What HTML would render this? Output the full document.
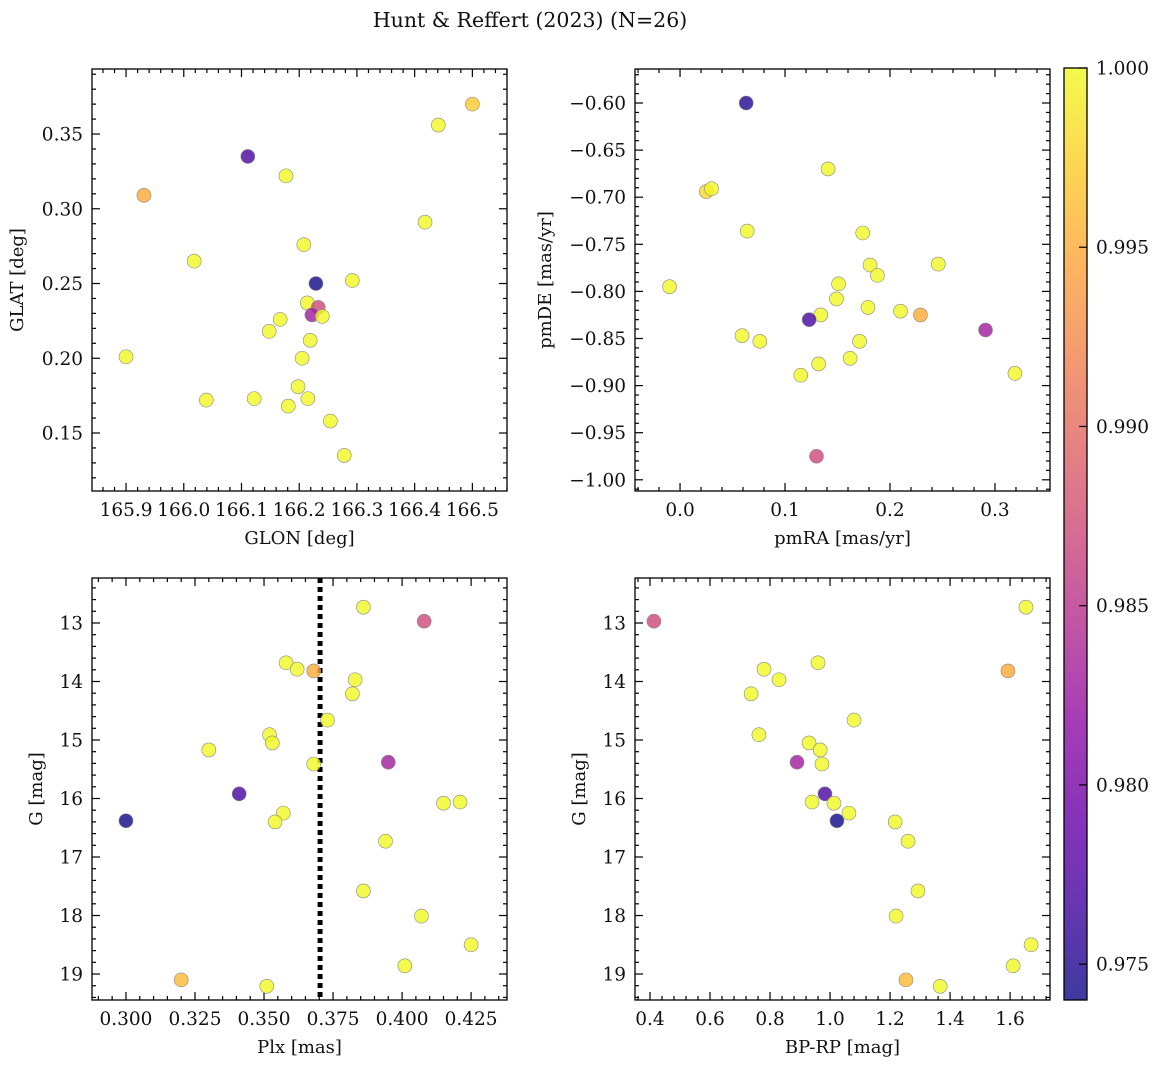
<!DOCTYPE html>
<html><head><meta charset="utf-8"><style>
body{margin:0;background:#fff}
svg text{font-family:"DejaVu Serif","Liberation Serif",serif;fill:#111}
</style></head><body>
<svg id="fig" width="1161" height="1068" viewBox="0 0 1161 1068" xmlns="http://www.w3.org/2000/svg">
<defs><linearGradient id="cbg" x1="0" y1="1" x2="0" y2="0"></linearGradient></defs>
<text x="530" y="27" font-size="20.5" text-anchor="middle">Hunt &amp; Reffert (2023) (N=26)</text>
</svg>
<script>
// ---- data ----
const glon=[166.5,166.441,166.111,166.177,165.931,166.418,166.208,166.018,166.229,166.292,166.214,166.233,166.222,166.240,166.167,166.148,166.219,166.205,165.9,166.198,166.039,166.122,166.215,166.181,166.254,166.278];
const glat=[0.370,0.356,0.335,0.322,0.309,0.291,0.276,0.265,0.250,0.252,0.237,0.234,0.229,0.228,0.226,0.218,0.212,0.200,0.201,0.181,0.172,0.173,0.173,0.168,0.158,0.135];
const probTL=[0.997,1,0.977,1,0.995,1,1,1,0.974,1,1,0.987,0.983,1,1,1,1,1,1,1,1,1,1,1,1,1];
const pmra=[0.063,0.141,0.025,0.030,0.064,0.174,0.246,0.181,0.188,-0.010,0.151,0.149,0.179,0.210,0.229,0.134,0.123,0.291,0.059,0.076,0.171,0.162,0.132,0.115,0.319,0.130];
const pmde=[-0.600,-0.670,-0.694,-0.691,-0.736,-0.738,-0.771,-0.772,-0.783,-0.795,-0.792,-0.808,-0.817,-0.821,-0.825,-0.825,-0.830,-0.841,-0.847,-0.853,-0.853,-0.871,-0.877,-0.889,-0.887,-0.975];
const probTR=[0.975,1,0.998,1,1,1,1,1,1,1,1,1,1,1,0.995,1,0.977,0.983,1,1,1,1,1,1,1,0.987];
const plx=[0.386,0.408,0.358,0.362,0.368,0.383,0.382,0.373,0.352,0.353,0.330,0.368,0.395,0.341,0.421,0.415,0.357,0.300,0.354,0.394,0.386,0.407,0.425,0.401,0.320,0.351];
const bprp=[1.653,0.413,0.96,0.78,1.593,0.83,0.737,1.08,0.763,0.93,0.967,0.973,0.89,0.983,0.94,1.013,1.063,1.023,1.217,1.26,1.293,1.22,1.67,1.61,1.253,1.367];
const gmag=[12.73,12.97,13.68,13.79,13.82,13.97,14.21,14.66,14.91,15.05,15.17,15.41,15.38,15.92,16.06,16.08,16.25,16.38,16.40,16.73,17.58,18.01,18.50,18.86,19.10,19.21];
const probB=[1,0.987,1,1,0.995,1,1,1,1,1,1,1,0.983,0.977,1,1,1,0.974,1,1,1,1,1,1,0.996,1];
const plxLine=0.3703;
const cbTicks=[0.975,0.980,0.985,0.990,0.995,1.000];
const cmin=0.974,cmax=1.0;
// ---- helpers ----
const NS="http://www.w3.org/2000/svg",svg=document.getElementById('fig');
function mk(t,a,p){const e=document.createElementNS(NS,t);for(const k in a)e.setAttribute(k,a[k]);(p||svg).appendChild(e);return e;}
const stops=[[13,8,135],[65,4,157],[106,0,168],[143,13,164],[177,42,144],[204,71,120],[225,100,98],[242,132,75],[252,166,54],[252,206,37],[240,249,33]];
function plasma(t){t=Math.max(0,Math.min(1,t));const f=t*10,i=Math.min(9,Math.floor(f)),r=f-i;const a=stops[i],b=stops[i+1];return 'rgb('+a.map((v,k)=>Math.round(v+(b[k]-v)*r)).join(',')+')';}
function fmt(v,d){return (v<0?'\u2212':'')+Math.abs(v).toFixed(d);}
function panel(o){
  const g=mk('g',{});
  const X=v=>o.x0+(v-o.xr[0])/(o.xr[1]-o.xr[0])*(o.x1-o.x0);
  const Y=o.inv?v=>o.y0+(v-o.yr[0])/(o.yr[1]-o.yr[0])*(o.y1-o.y0):v=>o.y1-(v-o.yr[0])/(o.yr[1]-o.yr[0])*(o.y1-o.y0);
  const tk=(x1,y1,x2,y2)=>mk('line',{x1,y1,x2,y2,stroke:'#000','stroke-width':1.2},g);
  for(let v=Math.ceil(o.xr[0]/o.xmin-1e-6)*o.xmin;v<=o.xr[1]+1e-9;v+=o.xmin){const x=X(v);const maj=Math.abs(v/o.xmaj-Math.round(v/o.xmaj))<1e-4;const L=maj?8:4;
    tk(x,o.y1,x,o.y1-L);tk(x,o.y0,x,o.y0+L);
    if(maj){const t=mk('text',{x:x,y:o.y1+25,'font-size':18.5,'text-anchor':'middle'},g);t.textContent=fmt(v,o.xd);}}
  for(let v=Math.ceil(o.yr[0]/o.ymin-1e-6)*o.ymin;v<=o.yr[1]+1e-9;v+=o.ymin){const y=Y(v);const maj=Math.abs(v/o.ymaj-Math.round(v/o.ymaj))<1e-4;const L=maj?8:4;
    tk(o.x0,y,o.x0+L,y);tk(o.x1,y,o.x1-L,y);
    if(maj){const t=mk('text',{x:o.x0-9,y:y+6.5,'font-size':18.5,'text-anchor':'end'},g);t.textContent=fmt(v,o.yd);}}
  if(o.vline!==undefined){const l=mk('line',{x1:X(o.vline),x2:X(o.vline),y1:o.y0,y2:o.y1,stroke:'#000','stroke-width':5,'stroke-dasharray':'5,4'},g);}
  o.xs.forEach((v,i)=>{const c=mk('circle',{cx:X(v),cy:Y(o.ys[i]),r:7,fill:plasma((o.c[i]-cmin)/(cmax-cmin)),'fill-opacity':0.8,stroke:'#888','stroke-width':0.6},g);
    });
  const r=mk('rect',{x:o.x0,y:o.y0,width:o.x1-o.x0,height:o.y1-o.y0,fill:'none',stroke:'#000','stroke-width':1.3},g);
  const xl=mk('text',{x:(o.x0+o.x1)/2,y:o.y1+53,'font-size':18,'text-anchor':'middle'},g);xl.textContent=o.xl;
  const yl=mk('text',{x:0,y:0,'font-size':18,'text-anchor':'middle',transform:`translate(${o.ylx},${(o.y0+o.y1)/2}) rotate(-90)`},g);yl.textContent=o.yl;
}
panel({name:'glon-glat-panel',x0:92,x1:507,y0:69,y1:491,xr:[165.841,166.560],yr:[0.1112,0.3935],xmaj:0.1,xmin:0.02,ymaj:0.05,ymin:0.01,xd:1,yd:2,xs:glon,ys:glat,c:probTL,xl:'GLON [deg]',yl:'GLAT [deg]',ylx:23});
panel({name:'proper-motion-panel',x0:635,x1:1050,y0:69,y1:491,xr:[-0.0429,0.3524],yr:[-1.0119,-0.5639],xmaj:0.1,xmin:0.02,ymaj:0.05,ymin:0.01,xd:1,yd:2,xs:pmra,ys:pmde,c:probTR,xl:'pmRA [mas/yr]',yl:'pmDE [mas/yr]',ylx:551});
panel({name:'parallax-mag-panel',x0:92,x1:507,y0:578,y1:1000,xr:[0.2877,0.4380],yr:[12.231,19.444],inv:true,xmaj:0.025,xmin:0.005,ymaj:1,ymin:0.2,xd:3,yd:0,xs:plx,ys:gmag,c:probB,xl:'Plx [mas]',yl:'G [mag]',ylx:42,vline:plxLine});
panel({name:'color-magnitude-panel',x0:635,x1:1050,y0:578,y1:1000,xr:[0.35,1.733],yr:[12.231,19.444],inv:true,xmaj:0.2,xmin:0.04,ymaj:1,ymin:0.2,xd:1,yd:0,xs:bprp,ys:gmag,c:probB,xl:'BP-RP [mag]',yl:'G [mag]',ylx:585});
// colorbar
const grad=document.getElementById('cbg');
for(let i=0;i<=10;i++){mk('stop',{offset:i/10,'stop-color':plasma(i/10)},grad);}
const cb=mk('g',{});
const cy0=68,cy1=1000,cx0=1064,cx1=1087;
mk('rect',{x:cx0,y:cy0,width:cx1-cx0,height:cy1-cy0,fill:'url(#cbg)','fill-opacity':0.8,stroke:'#000','stroke-width':1.3},cb);
cbTicks.forEach(v=>{const y=cy1-(v-cmin)/(cmax-cmin)*(cy1-cy0);mk('line',{x1:cx1,x2:cx1-8,y1:y,y2:y,stroke:'#000','stroke-width':1.2},cb);
  const t=mk('text',{x:cx1+9,y:y+6.5,'font-size':18.5},cb);t.textContent=v.toFixed(3);});
</script>
</body></html>
